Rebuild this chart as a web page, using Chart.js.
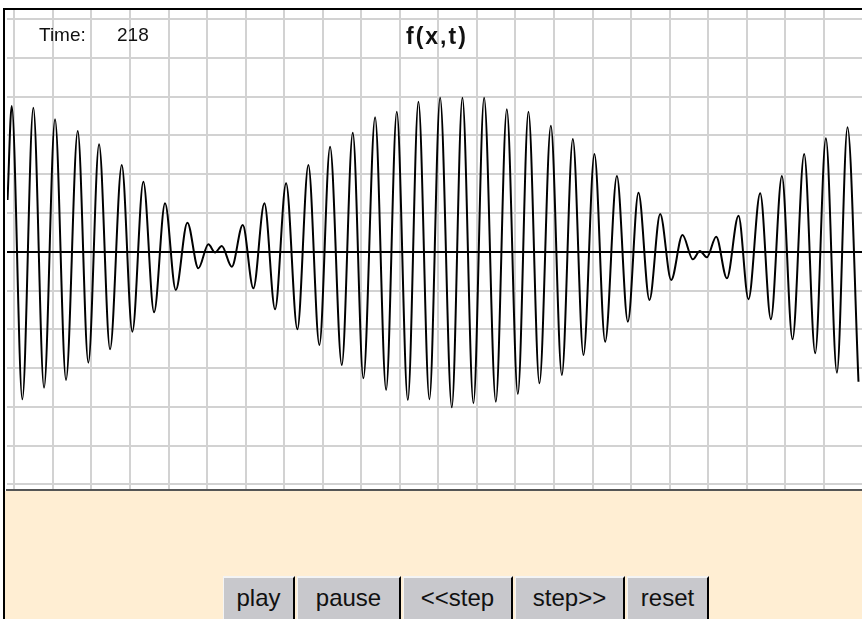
<!DOCTYPE html>
<html>
<head>
<meta charset="utf-8">
<title>f(x,t)</title>
<script src="https://cdn.jsdelivr.net/npm/chart.js@4/dist/chart.umd.min.js"></script>
<style>
  html, body { margin: 0; padding: 0; background: #fff; }
  #stage {
    position: relative; width: 862px; height: 619px; overflow: hidden;
    background: #fff; font-family: "Liberation Sans", Arial, sans-serif;
  }
  #plot { position: absolute; left: 0; top: 0; }
  #frameTop { position: absolute; left: 3px; top: 8px; width: 859px; height: 2px; background: #000; }
  #frameLeft { position: absolute; left: 3px; top: 8px; width: 2px; height: 611px; background: #000; }
  #panel { position: absolute; left: 5px; top: 491px; width: 857px; height: 128px; background: #ffeed3; }
  .lbl { position: absolute; color: #111; white-space: nowrap; line-height: 1; }
  #timeLbl { left: 39px; top: 25px; font-size: 19px; }
  #timeVal { left: 117px; top: 25px; font-size: 19px; }
  #title { left: 406px; top: 25px; font-size: 23px; font-weight: bold; letter-spacing: 2px; }
  .btn {
    position: absolute; top: 576px; height: 46px; box-sizing: border-box;
    background: #c8c8cc; color: #111; font-size: 24px; font-family: "Liberation Sans", Arial, sans-serif;
    border-style: solid; border-width: 2px 2px 0 1px; border-color: #f4f4f4 #000 #000 #f4f4f4;
    padding: 0 0 5px 0; margin: 0; display: flex; align-items: center; justify-content: center;
  }
</style>
</head>
<body>
<div id="stage">
  <canvas id="plot" width="862" height="491"></canvas>
  <div id="panel"></div>
  <div id="frameTop"></div>
  <div id="frameLeft"></div>
  <div class="lbl" id="timeLbl">Time:</div>
  <div class="lbl" id="timeVal">218</div>
  <div class="lbl" id="title">f(x,t)</div>
  <div class="btn" style="left:223px;width:72px">play</div>
  <div class="btn" style="left:297px;width:104px">pause</div>
  <div class="btn" style="left:403px;width:110px">&lt;&lt;step</div>
  <div class="btn" style="left:515px;width:110px">step&gt;&gt;</div>
  <div class="btn" style="left:627px;width:82px">reset</div>
</div>
<script>
// Snapshot of f(x,t) at t = 218: turning points of the wave (x in grid units)
const waveX = [
  -0.176, -0.067, 0.208, 0.493, 0.771, 1.056, 1.341, 1.645, 1.920, 2.198,
  2.483, 2.787, 3.062, 3.347, 3.625, 3.910, 4.188, 4.489, 4.774, 5.034,
  5.208, 5.381, 5.641, 5.926, 6.201, 6.487, 6.764, 7.050, 7.343, 7.628,
  7.914, 8.191, 8.495, 8.780, 9.055, 9.359, 9.645, 9.922, 10.208, 10.483,
  10.768, 11.046, 11.349, 11.624, 11.910, 12.187, 12.491, 12.776, 13.062, 13.337,
  13.622, 13.918, 14.203, 14.489, 14.764, 15.049, 15.327, 15.631, 15.916, 16.191,
  16.476, 16.754, 17.040, 17.333, 17.602, 17.784, 17.966, 18.207, 18.485, 18.786,
  19.045, 19.349, 19.626, 19.912, 20.187, 20.490, 20.776, 21.053, 21.339, 21.614,
  21.899
];
const waveF = [
  0.666, 1.878, -1.902, 1.856, -1.753, 1.706, -1.653, 1.555, -1.430, 1.384,
  -1.258, 1.117, -1.031, 0.902, -0.781, 0.624, -0.494, 0.374, -0.214, 0.095,
  -0.010, 0.073, -0.193, 0.344, -0.472, 0.624, -0.742, 0.881, -1.000, 1.117,
  -1.202, 1.353, -1.460, 1.534, -1.631, 1.732, -1.782, 1.804, -1.911, 1.933,
  -1.902, 1.985, -2.005, 1.985, -1.954, 1.985, -1.933, 1.835, -1.834, 1.804,
  -1.696, 1.624, -1.589, 1.452, -1.331, 1.259, -1.160, 0.976, -0.902, 0.760,
  -0.622, 0.486, -0.365, 0.215, -0.098, 0.009, -0.072, 0.193, -0.343, 0.464,
  -0.613, 0.753, -0.871, 0.976, -1.129, 1.259, -1.309, 1.461, -1.559, 1.603,
  -1.675
];

// Grid positions
const gridX = [0,1,2,3,4,5,6,7,8,9,10,11,12,13,14,15,16,17,18,19,20,21];
const gridY = [-3,-2.5,-2,-1.5,-1,-0.5,0,0.5,1,1.5,2,2.5,3];
const xRange = [-0.19, 21.99];
const yRange = [-3.071, 3.115];

const points = waveX.map((x, i) => ({ x: x, y: waveF[i] }));

new Chart(document.getElementById('plot'), {
  type: 'line',
  data: {
    datasets: [{
      data: points,
      borderColor: '#000',
      borderWidth: 2,
      pointRadius: 0,
      fill: false,
      cubicInterpolationMode: 'monotone'
    }]
  },
  options: {
    responsive: false,
    animation: false,
    events: [],
    layout: { padding: { left: 7, top: 10, right: 0, bottom: 1 } },
    plugins: { legend: { display: false }, tooltip: { enabled: false }, title: { display: false } },
    scales: {
      x: {
        type: 'linear',
        min: xRange[0], max: xRange[1],
        afterBuildTicks: s => { s.ticks = gridX.map(v => ({ value: v })); },
        afterFit: s => { s.height = 0; },
        ticks: { display: false },
        grid: { color: '#d2d2d2', lineWidth: 2, drawTicks: false },
        border: { display: true, color: '#555', width: 2 }
      },
      y: {
        type: 'linear',
        min: yRange[0], max: yRange[1],
        afterBuildTicks: s => { s.ticks = gridY.map(v => ({ value: v })); },
        afterFit: s => { s.width = 0; },
        ticks: { display: false },
        grid: {
          color: c => (c.tick && c.tick.value === 0) ? '#000' : '#d2d2d2',
          lineWidth: 2, drawTicks: false
        },
        border: { display: false }
      }
    }
  }
});
</script>
</body>
</html>
